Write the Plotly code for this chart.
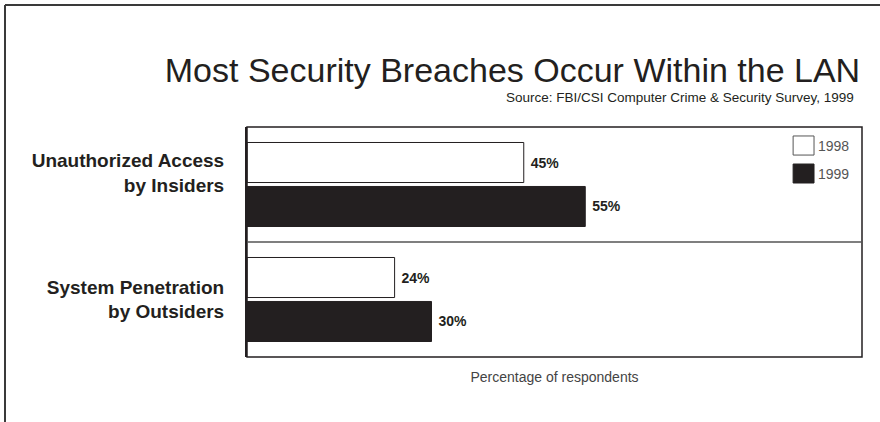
import plotly.graph_objects as go

categories = ["Unauthorized Access<br>by Insiders", "System Penetration<br>by Outsiders"]
series_names = ["1998", "1999"]
values_1998 = [45, 24]
values_1999 = [55, 30]
series_values = [values_1998, values_1999]

DARK = "#231f20"
fills = ["#ffffff", DARK]

fig = go.Figure()
for name, vals, fill in zip(series_names, series_values, fills):
    fig.add_trace(go.Bar(
        y=categories, x=vals, name=name, orientation="h",
        marker=dict(color=fill, line=dict(color=DARK, width=1)),
        text=[f"\u00a0{v}%" for v in vals], textposition="outside",
        textfont=dict(family="Liberation Sans", size=14, color=DARK, weight="bold"),
        cliponaxis=False, showlegend=False,
    ))

shapes = []
# outer frame (top & left visible)
shapes.append(dict(type="line", xref="paper", yref="paper", x0=-0.3935, x1=1.1, y0=1.5304, y1=1.5304,
                   line=dict(color="#3a3a3a", width=2)))
shapes.append(dict(type="line", xref="paper", yref="paper", x0=-0.3935, x1=-0.3935, y0=1.5304, y1=-0.4,
                   line=dict(color="#3a3a3a", width=2)))
# plot box
shapes.append(dict(type="rect", xref="paper", yref="paper", x0=0, x1=1, y0=0, y1=1,
                   line=dict(color=DARK, width=1.5), layer="above"))
# divider between categories
shapes.append(dict(type="line", xref="paper", yref="y", x0=0, x1=1, y0=0.5, y1=0.5,
                   line=dict(color="#555555", width=1.5)))

annotations = []
# manual legend
legend_y = [(0.878, 0.961), (0.7565, 0.839)]
for name, fill, (ya, yb) in zip(series_names, fills, legend_y):
    shapes.append(dict(type="rect", xref="paper", yref="paper", x0=0.888, x1=0.922, y0=ya, y1=yb,
                       fillcolor=fill, line=dict(color="#555555" if fill == "#ffffff" else DARK, width=1)))
    annotations.append(dict(text=name, xref="paper", yref="paper", x=0.925, y=(ya + yb) / 2,
                            xanchor="left", yanchor="middle", showarrow=False,
                            font=dict(family="Liberation Sans", size=14, color="#555555")))

annotations.append(dict(text="Source: FBI/CSI Computer Crime & Security Survey, 1999",
                        xref="paper", yref="paper", x=0.99, y=1.13, xanchor="right", yanchor="middle",
                        showarrow=False, font=dict(family="Liberation Sans", size=13.5, color=DARK)))

fig.update_layout(
    width=880, height=422,
    margin=dict(l=247, r=18, t=127, b=65),
    paper_bgcolor="white", plot_bgcolor="white",
    barmode="group", bargap=0.235, bargroupgap=0.09,
    title=dict(text="Most Security Breaches Occur Within the LAN",
               xref="paper", x=0.997, xanchor="right", yref="container", y=0.834, yanchor="middle",
               font=dict(family="Liberation Sans", size=34, color=DARK)),
    xaxis=dict(range=[0, 100], showticklabels=False, showgrid=False, zeroline=False, showline=False,
               title=dict(text="Percentage of respondents", standoff=15,
                          font=dict(family="Liberation Sans", size=14, color="#444444"))),
    yaxis=dict(autorange="reversed", showgrid=False, zeroline=False, showline=True,
               linecolor=DARK, linewidth=2, ticks="", ticklabelstandoff=17,
               tickmode="array", tickvals=[-0.1, 1.0], ticktext=categories,
               tickfont=dict(family="Liberation Sans", size=19, color=DARK, weight="bold")),
    shapes=shapes, annotations=annotations,
    showlegend=False,
)

fig.write_html("out.html")
